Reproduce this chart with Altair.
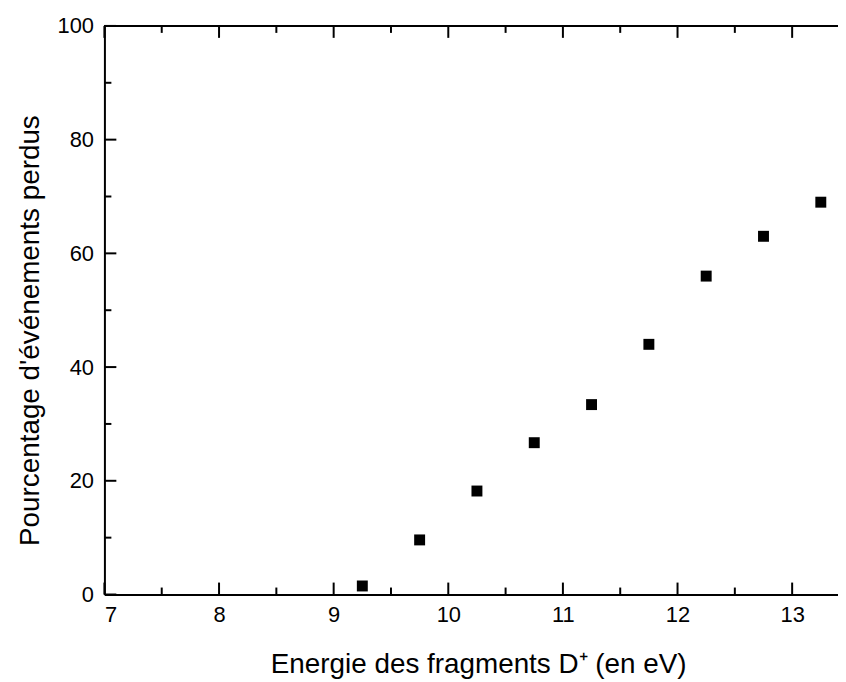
import altair as alt
import pandas as pd

# Data
energy = [9.25, 9.75, 10.25, 10.75, 11.25, 11.75, 12.25, 12.75, 13.25]
pct = [1.5, 9.6, 18.2, 26.7, 33.4, 44.0, 56.0, 63.0, 69.0]

x_major = [7, 8, 9, 10, 11, 12, 13]
x_minor = [7.5, 8.5, 9.5, 10.5, 11.5, 12.5, 13.5]
y_major = [0, 20, 40, 60, 80, 100]
y_minor = [10, 30, 50, 70, 90]

X_DOMAIN = [7, 13.4]
Y_DOMAIN = [0, 100]
W, H = 738, 572
FONT = "Liberation Sans"

df = pd.DataFrame({"energy": energy, "pct": pct})
xmaj = pd.DataFrame({"v": x_major})
xmin = pd.DataFrame({"v": [v for v in x_minor if v <= X_DOMAIN[1]]})
ymaj = pd.DataFrame({"v": y_major})
ymin = pd.DataFrame({"v": y_minor})

xscale = alt.Scale(domain=X_DOMAIN, nice=False, zero=False)
yscale = alt.Scale(domain=Y_DOMAIN, nice=False, zero=False)

points = alt.Chart(df).mark_point(
    shape="square", filled=True, color="black", size=121, opacity=1
).encode(
    x=alt.X("energy:Q", scale=xscale,
            axis=alt.Axis(values=x_major, format="d",
                          title="Energie des fragments D⁺ (en eV)",
                          labelPadding=10, titlePadding=25, titleX=376)),
    y=alt.Y("pct:Q", scale=yscale,
            axis=alt.Axis(values=y_major, format="d",
                          title="Pourcentage d'événements perdus",
                          labelPadding=11, titlePadding=13, titleY=306)),
)

tick_color = "black"

def xticks(data, length, top):
    if top:
        enc = dict(y=alt.value(0), y2=alt.value(length))
    else:
        enc = dict(y=alt.value(H), y2=alt.value(H - length))
    return alt.Chart(data).mark_rule(color=tick_color, strokeWidth=2).encode(
        x=alt.X("v:Q", scale=xscale), **enc)

def yticks(data, length):
    return alt.Chart(data).mark_rule(color=tick_color, strokeWidth=2).encode(
        y=alt.Y("v:Q", scale=yscale), x=alt.value(0), x2=alt.value(length))

top_line = alt.Chart(xmaj).mark_rule(color="black", strokeWidth=2).encode(
    x=alt.value(0), x2=alt.value(W + 5), y=alt.value(0))

chart = alt.layer(
    points,
    top_line,
    xticks(xmaj, 12, False), xticks(xmin, 7, False),
    xticks(xmaj, 12, True), xticks(xmin, 7, True),
    yticks(ymaj, 12), yticks(ymin, 7),
).properties(
    width=W, height=H,
    autosize=alt.AutoSizeParams(type="none"),
    padding={"left": 97, "top": 16, "right": 0, "bottom": 88},
    background="white",
).configure_view(stroke=None).configure_axis(
    grid=False, ticks=False, tickSize=0, domain=True, domainColor="black",
    domainWidth=2, labelFont=FONT, labelFontSize=22, labelColor="black",
    titleFont=FONT, titleFontSize=28, titleFontWeight="normal", titleColor="black",
)

chart.save("out.html", embed_options={"renderer": "svg", "actions": False})
